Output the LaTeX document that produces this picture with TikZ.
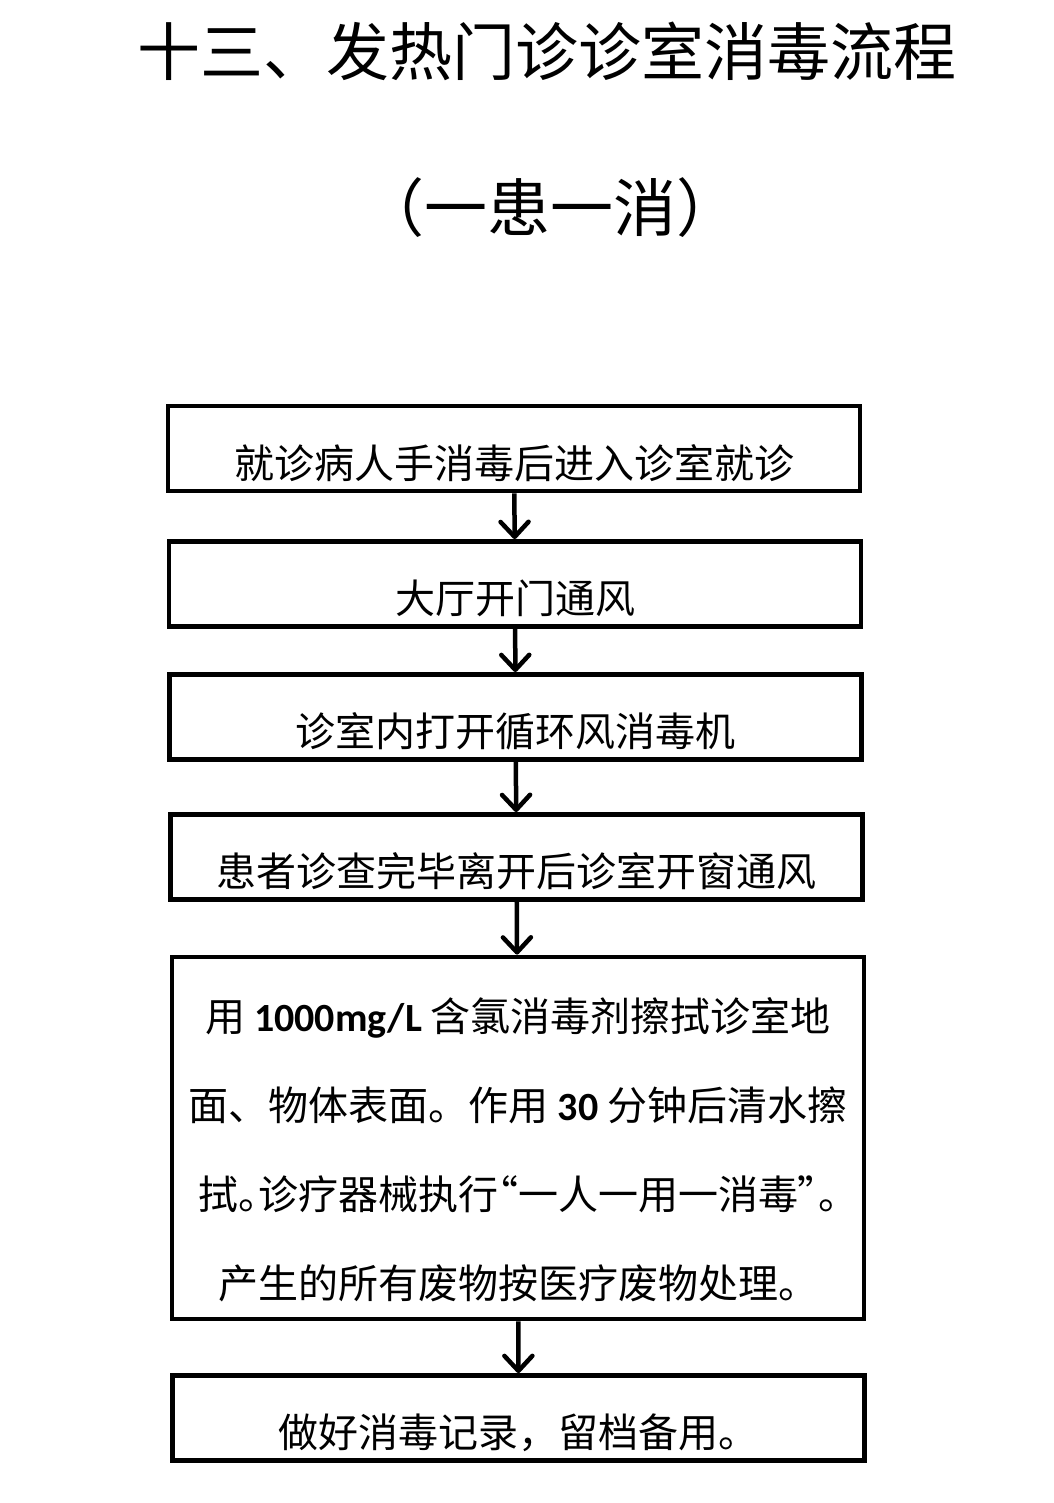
\documentclass[tikz,border=0pt]{standalone}
\usepackage{fontspec}
\setmainfont{Noto Sans CJK SC}
\newfontfamily\paltfont[RawFeature=+palt]{Noto Sans CJK SC}
\newfontfamily\numfont{Carlito}
\usetikzlibrary{arrows.meta,positioning}
\tikzset{
  stepbox/.style={rectangle, draw, line width=4.8pt, minimum width=692pt, minimum height=85pt, inner sep=0pt, text height=59pt, text depth=0pt, font=\fontsize{40}{89}\selectfont},
  bigbox/.style={stepbox, minimum height=362pt, align=center, text height=320pt, text depth=0pt},
  titletext/.style={inner sep=0pt, font=\fontsize{63}{80}\selectfont},
  arrow/.style={line width=4.5pt, -{Straight Barb[length=15pt, width=28pt, round]}}
}
\begin{document}
\begin{tikzpicture}[x=1pt, y={(0pt,-1pt)}]
\useasboundingbox (0,0) rectangle (1053,1503);
% Title
\node[titletext, anchor=base] (title) at (547,76) {十三、发热门诊诊室消毒流程};
\node[titletext, anchor=base] (subtitle) at (550,232) {（一患一消）};

% Steps
\node[stepbox] (enter) at (514,448.5) {就诊病人手消毒后进入诊室就诊};
\node[stepbox] (hall) at (515,584) {大厅开门通风};
\node[stepbox] (machine) at (515.5,717) {诊室内打开循环风消毒机};
\node[stepbox] (window) at (516.5,857) {患者诊查完毕离开后诊室开窗通风};
\node[bigbox] (wipe) at (518,1138) {用 {\numfont\bfseries 1000mg/L} 含氯消毒剂擦拭诊室地\\
面、物体表面。作用 {\numfont\bfseries 30} 分钟后清水擦\\
{\paltfont 拭。诊疗器械执行“一人一用一消毒”。}\\
产生的所有废物按医疗废物处理。};
\node[stepbox] (record) at (518.5,1418) {做好消毒记录，留档备用。};

\draw[arrow] (enter) -- (hall);
\draw[arrow] (hall) -- (machine);
\draw[arrow] (machine) -- (window);
\draw[arrow] (window) -- (wipe);
\draw[arrow] (wipe) -- (record);
\end{tikzpicture}
\end{document}
